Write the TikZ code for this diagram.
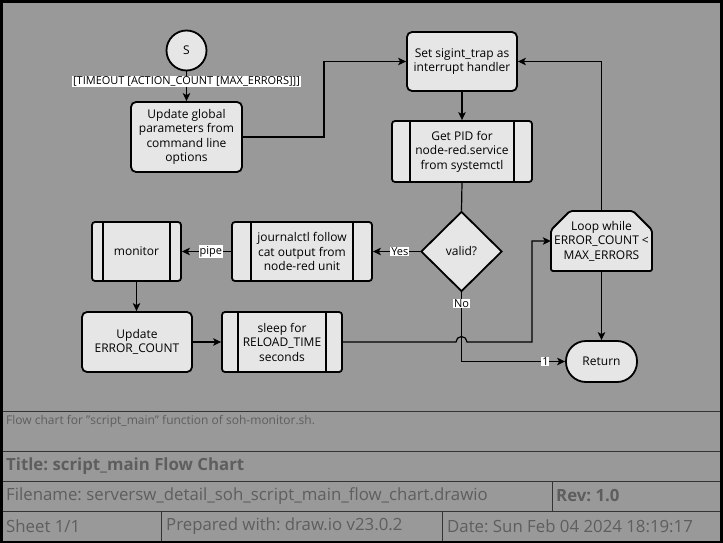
\documentclass[tikz,border=0pt]{standalone}
\usepackage{fontspec}
\setmainfont{Open Sans}
\usetikzlibrary{shapes.geometric,arrows.meta,calc}
\definecolor{bg}{HTML}{999999}
\definecolor{nodefill}{HTML}{E6E6E6}
\definecolor{tbtext}{HTML}{5E5E5E}
\definecolor{tbline}{HTML}{333333}
\frenchspacing
\newcommand{\pbars}[2]{%
  \draw[line width=1.8pt] ($(#1.north west)!#2!(#1.north east)$) -- ($(#1.south west)!#2!(#1.south east)$);
  \draw[line width=1.8pt] ($(#1.north east)!#2!(#1.north west)$) -- ($(#1.south east)!#2!(#1.south west)$);}
\begin{document}
\begin{tikzpicture}[x=1pt,y=-1pt,
  every node/.style={font=\fontsize{12}{14.5}\selectfont, align=center, inner sep=0pt},
  base/.style={draw=black, fill=nodefill, line width=1.8pt},
  rbox/.style={base, rounded corners=5pt},
  pbox/.style={base, rounded corners=3pt},
  wire/.style={line width=1.2pt},
  conn/.style={wire, -{Stealth[length=8pt,width=7.5pt,inset=2pt]}},
  elabel/.style={fill=white, font=\fontsize{11}{13}\selectfont, inner sep=0.8pt},
  tb/.style={anchor=west, text=tbtext, font=\fontsize{16.8}{19}\selectfont},
]
\useasboundingbox (0,0) rectangle (723,543);
\fill[black] (0,0) rectangle (723,543);
\fill[bg] (3,3) rectangle (720,540.5);

% title block
\draw[tbline, line width=1pt] (3,411) -- (720,411);
\draw[tbline, line width=1pt] (3,451) -- (720,451);
\draw[tbline, line width=1pt] (3,481) -- (720,481);
\draw[tbline, line width=1pt] (3,511) -- (720,511);
\draw[tbline, line width=1pt] (552,481) -- (552,511);
\draw[tbline, line width=1pt] (161,511) -- (161,540.5);
\draw[tbline, line width=1pt] (442,511) -- (442,540.5);
\node[tb, font=\fontsize{12}{14}\selectfont] (desc) at (6,421) {Flow chart for \symbol{34}script\_main\symbol{34} function of soh-monitor.sh.};
\node[tb, font=\fontsize{16.8}{19}\bfseries] (title) at (6,466) {Title: script\_main Flow Chart};
\node[tb] (fname) at (6,496) {Filename: serversw\_detail\_soh\_script\_main\_flow\_chart.drawio};
\node[tb, font=\fontsize{16.8}{19}\bfseries] (rev) at (556,496) {Rev: 1.0};
\node[tb] (sheet) at (6,526) {Sheet 1/1};
\node[tb] (prep) at (166,526) {Prepared with: draw.io v23.0.2};
\node[tb] (date) at (447,526) {Date: Sun Feb 04 2024 18:19:17};

% nodes
\node[base, circle, minimum size=40pt] (s) at (186.5,50.5) {S};
\node[rbox, minimum width=111pt, minimum height=70pt] (upg) at (186.5,137) {Update global\\parameters from\\command line\\options};
\node[rbox, minimum width=110pt, minimum height=59pt] (trap) at (462,61.5) {Set sigint\_trap as\\interrupt handler};
\node[pbox, minimum width=140pt, minimum height=61pt] (pid) at (462,151.5) {Get PID for\\node-red.service\\from systemctl};
\pbars{pid}{0.136}
\node[base, diamond, aspect=1, minimum width=81pt, minimum height=80pt] (valid) at (461.5,251.5) {valid?};
\node[pbox, minimum width=140pt, minimum height=59pt] (journal) at (302,251.5) {journalctl follow\\cat output from\\node-red unit};
\pbars{journal}{0.143}
\node[pbox, minimum width=89pt, minimum height=59pt] (monitor) at (136.5,251.5) {monitor};
\pbars{monitor}{0.135}
\node[rbox, minimum width=110pt, minimum height=60pt] (upd) at (137,342) {Update\\ERROR\_COUNT};
\node[pbox, minimum width=120pt, minimum height=60pt] (sleep) at (282,342) {sleep for\\RELOAD\_TIME\\seconds};
\pbars{sleep}{0.136}
\filldraw[base, rounded corners=2pt] (551,230) -- (570,211) -- (633,211) -- (652,230) -- (652,271) -- (551,271) -- cycle;
\node[minimum width=101pt, minimum height=60pt] (loop) at (601.5,241) {Loop while\\ERROR\_COUNT <\\MAX\_ERRORS};
\node[base, rounded corners=20pt, minimum width=71pt, minimum height=41pt] (ret) at (601.5,361.5) {Return};

% connectors
\draw[conn] (s.south) -- node[elabel, pos=0.33] {[TIMEOUT [ACTION\_COUNT [MAX\_ERRORS]]]} (upg.north);
\draw[conn] (upg.east) -- (324,137) |- (trap.west);
\draw[conn] (trap.south) -- (pid.north);
\draw[wire] (pid.south) -- (valid.north);
\draw[conn] (valid.west) -- node[elabel, pos=0.43] {Yes} (journal.east);
\draw[conn] (journal.west) -- node[elabel, pos=0.41] {pipe} (monitor.east);
\draw[conn] (monitor.south) -- (monitor.south |- upd.north);
\draw[conn] (upd.east) -- (sleep.west);
\draw[conn] (sleep.east) -- (456,342) arc[start angle=180, end angle=360, radius=5.5] -- (532,342) |- (loop.west);
\draw[conn] (valid.south) -- node[elabel, pos=0.16] {No} (valid.south |- ret.west) -- node[elabel, pos=0.81] {1} (ret.west);
\draw[conn] (loop.north) |- (trap.east);
\draw[conn] (loop.south) -- (ret.north);
\end{tikzpicture}
\end{document}
